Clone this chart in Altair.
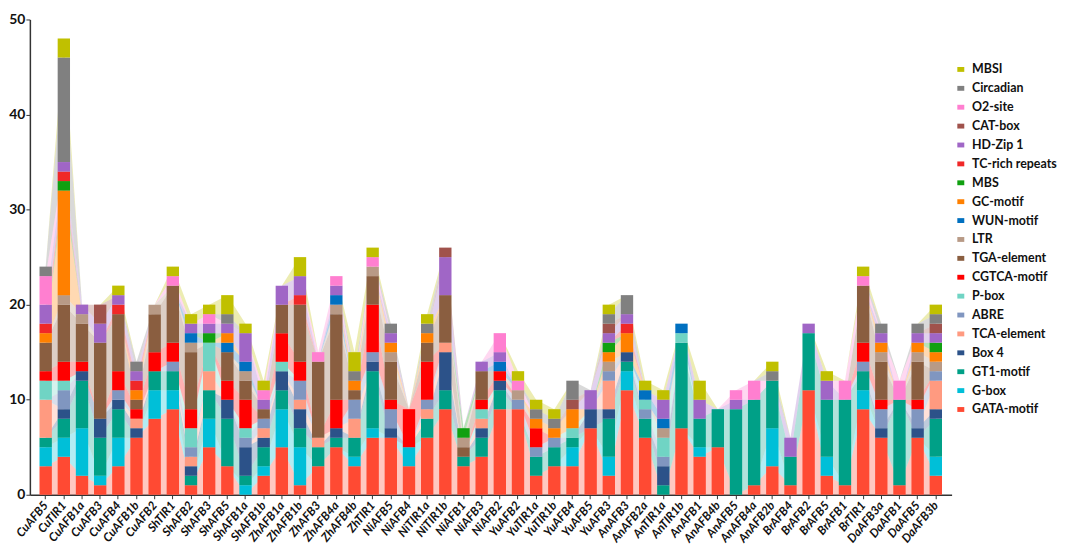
import altair as alt
import pandas as pd

genes = ["CuAFB5", "CuTIR1", "CuAFB1a", "CuAFB3", "CuAFB4", "CuAFB1b", "CuAFB2",
         "ShTIR1", "ShAFB2", "ShAFB3", "ShAFB5", "ShAFB1a", "ShAFB1b",
         "ZhAFB1a", "ZhAFB1b", "ZhAFB3", "ZhAFB4a", "ZhAFB4b", "ZhTIR1",
         "NiAFB5", "NiAFB4", "NiTIR1a", "NiTIR1b", "NiAFB1", "NiAFB3", "NiAFB2",
         "YuAFB2", "YuTIR1a", "YuTIR1b", "YuAFB4", "YuAFB5", "YuAFB3",
         "AnAFB3", "AnAFB2a", "AnTIR1a", "AnTIR1b", "AnAFB1", "AnAFB4b", "AnAFB5", "AnAFB4a", "AnAFB2b",
         "BrAFB4", "BrAFB2", "BrAFB5", "BrAFB1", "BrTIR1",
         "DaAFB3a", "DaAFB1", "DaAFB5", "DaAFB3b"]

# counts per motif, one value per gene (same order as genes)
GATA = [3,4,2,1,3,6,8,9,1,5, 3,0,2,5,1,3,5,3,6,6, 3,6,9,3,4,9,9,2,3,3, 7,2,11,6,0,7,4,5,0,1, 3,1,11,2,1,9,6,1,6,2]
GBOX = [2,2,5,1,3,0,3,2,0,3, 0,1,1,4,4,0,0,1,1,0, 2,0,0,0,0,0,0,0,0,2, 0,2,2,0,0,0,1,0,0,0, 4,0,0,2,0,2,0,0,0,2]
GT1 = [1,2,5,4,3,0,2,2,1,3, 5,1,2,2,2,2,1,2,6,0, 0,2,2,1,2,2,0,2,2,1, 0,4,1,2,1,9,3,4,9,9, 5,3,6,6,9,2,0,9,0,4]
BOX4 = [0,1,1,2,1,1,0,0,1,0, 2,3,1,2,2,0,1,0,1,1, 0,0,4,0,1,1,0,0,0,0, 2,1,1,0,2,0,0,0,0,0, 0,0,0,0,0,0,1,0,1,1]
TCA = [4,0,0,0,0,1,0,0,1,2, 0,0,1,0,1,1,0,2,0,0, 0,1,1,0,1,0,0,0,0,0, 0,3,0,0,0,0,0,0,0,0, 0,0,0,0,0,0,0,0,0,3]
ABRE = [0,2,0,0,1,0,0,1,1,0, 0,1,1,0,2,0,0,2,1,2, 0,1,0,0,0,0,1,1,1,0, 0,1,0,1,1,0,0,0,0,0, 0,0,0,0,0,1,2,0,2,1]
PBOX = [2,1,0,0,0,0,0,0,2,3, 0,1,0,1,0,0,0,0,0,0, 0,0,0,0,1,0,0,0,0,1, 0,0,0,1,2,1,0,0,0,0, 0,0,0,0,0,0,0,0,0,0]
CGTCA = [1,2,1,0,2,1,2,2,2,0, 2,3,0,3,2,0,3,0,5,1, 4,4,0,0,1,1,0,2,0,0, 0,0,0,0,0,0,0,0,0,0, 0,0,0,0,0,2,1,0,1,0]
TGA = [3,6,4,8,6,1,4,6,6,0, 3,2,1,3,6,8,9,1,3,4, 0,2,5,1,3,0,0,0,0,0, 0,0,0,0,0,0,0,0,0,0, 0,0,0,0,0,6,4,0,4,0]
LTR = [0,1,1,0,0,0,1,0,1,0, 0,1,0,0,0,0,1,0,1,1, 0,0,0,1,0,0,1,0,0,0, 0,1,0,0,1,0,0,0,0,0, 0,0,0,0,0,0,1,0,1,1]
WUN = [0,0,0,0,0,0,0,0,1,0, 1,1,0,0,0,0,1,0,0,0, 0,0,0,0,0,1,0,0,0,0, 0,0,0,1,1,1,0,0,0,0, 0,0,0,0,0,0,0,0,0,0]
GC = [1,11,0,0,0,1,0,0,0,0, 1,0,0,0,0,0,0,1,0,1, 0,1,0,0,0,0,0,1,1,2, 0,1,2,0,0,0,0,0,0,0, 0,0,0,0,0,0,1,0,1,1]
MBS = [0,1,0,0,0,0,0,0,0,1, 0,0,0,0,0,0,0,0,0,0, 0,0,0,1,0,0,0,0,0,0, 0,1,0,0,0,0,0,0,0,0, 0,0,0,0,0,0,0,0,0,1]
TCR = [1,1,0,0,1,1,0,0,0,0, 0,0,0,0,1,0,0,0,0,0, 0,0,0,0,0,0,0,0,0,0, 0,0,1,0,0,0,0,0,0,0, 0,0,0,0,0,0,0,0,0,0]
HDZIP = [2,1,1,2,1,1,0,0,1,1, 1,3,1,2,2,0,1,0,0,1, 0,0,4,0,1,1,0,0,0,0, 2,1,1,0,2,0,2,0,1,0, 0,2,1,2,0,0,1,0,1,1]
CAT = [0,0,0,2,0,0,0,0,0,0, 0,0,0,0,0,0,0,0,0,0, 0,0,1,0,0,0,0,0,0,1, 0,1,0,0,0,0,0,0,0,0, 0,0,0,0,0,0,0,0,0,1]
O2 = [3,0,0,0,0,0,0,1,0,1, 0,0,1,0,0,1,1,0,1,0, 0,0,0,0,0,2,1,0,0,0, 0,0,0,0,0,0,0,0,1,2, 0,0,0,0,2,1,0,2,0,0]
CIRC = [1,11,0,0,0,1,0,0,0,0, 1,0,0,0,0,0,0,1,0,1, 0,1,0,0,0,0,0,1,1,2, 0,1,2,0,0,0,0,0,0,0, 1,0,0,0,0,0,1,0,1,1]
MBSI = [0,2,0,0,1,0,0,1,1,1, 2,1,1,0,2,0,0,2,1,0, 0,1,0,0,0,0,1,1,1,0, 0,1,0,1,1,0,2,0,0,0, 1,0,0,1,0,1,0,0,0,1]

# stacking order, bottom to top
motifs = ["GATA-motif", "G-box", "GT1-motif", "Box 4", "TCA-element", "ABRE", "P-box",
          "CGTCA-motif", "TGA-element", "LTR", "WUN-motif", "GC-motif", "MBS",
          "TC-rich repeats", "HD-Zip 1", "CAT-box", "O2-site", "Circadian", "MBSI"]
series = [GATA, GBOX, GT1, BOX4, TCA, ABRE, PBOX, CGTCA, TGA, LTR, WUN, GC, MBS,
          TCR, HDZIP, CAT, O2, CIRC, MBSI]
colors = ["#FF4A33", "#00BFD8", "#00A087", "#2C5289", "#FF9A80", "#8096C0", "#70D4C4",
          "#FF0000", "#8A5E40", "#B89A86", "#0070C0", "#FF8000", "#10A010",
          "#F02828", "#A066C6", "#A0524C", "#FF7FD0", "#808080", "#C0C000"]

rows = []
for k, (m, vals) in enumerate(zip(motifs, series)):
    for g, v in zip(genes, vals):
        rows.append({"gene": g, "motif": m, "idx": k, "value": v})
df = pd.DataFrame(rows)

FONT = "Lato"

x = alt.X("gene:N", sort=genes,
          scale=alt.Scale(paddingInner=0.32, paddingOuter=0.53),
          axis=alt.Axis(title=None, labelAngle=-50, labelAlign="right", labelBaseline="middle",
                        labelFont=FONT, labelFontWeight="bold", labelFontStyle="italic",
                        labelFontSize=12, labelColor="#111", labelPadding=4,
                        domainColor="#333", domainWidth=1.5, tickColor="#333", tickSize=4))
y = alt.Y("value:Q", stack="zero",
          scale=alt.Scale(domain=[0, 50], nice=False),
          axis=alt.Axis(title=None, values=[0, 10, 20, 30, 40, 50], grid=False,
                        labelFont=FONT, labelFontWeight="bold", labelFontSize=14,
                        labelColor="#111", labelPadding=1, tickSize=4,
                        domainColor="#333", domainWidth=1.5, tickColor="#333"))
order = alt.Order("idx:Q", sort="ascending")
cscale = alt.Scale(domain=motifs[::-1], range=colors[::-1])
legend = alt.Legend(title=None, orient="none", legendX=930, legendY=44,
                    symbolType="M-1,-0.7L1,-0.7L1,0.7L-1,0.7Z",
                    symbolSize=49, symbolOpacity=1, symbolStrokeWidth=0,
                    labelFont=FONT, labelFontWeight="bold", labelFontSize=12.5,
                    labelColor="#111", labelOffset=5, rowPadding=6, labelLimit=200)
color = alt.Color("motif:N", scale=cscale, legend=legend)

base = alt.Chart(df)

area = base.mark_area(opacity=0.3, interpolate="linear").encode(
    x=x, y=y, order=order, color=color)

bars = base.mark_bar().encode(
    x=x, y=y, order=order, color=color)

chart = alt.layer(area, bars).properties(
    width=927, height=478, padding={"left": 0, "top": 3, "right": 0, "bottom": 0}
).configure_view(stroke=None)

chart.save("out.html", embed_options={"renderer": "svg", "actions": False})
